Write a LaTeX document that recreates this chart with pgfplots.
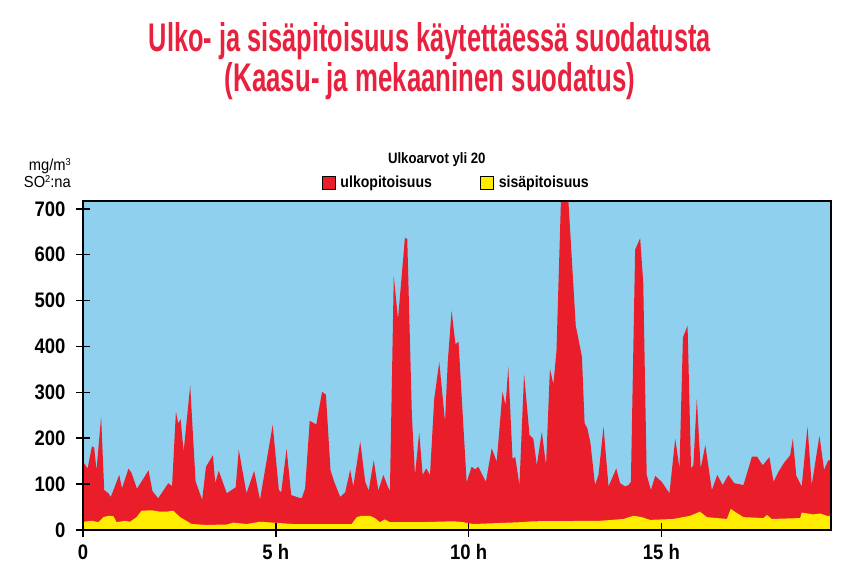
\documentclass[border=0pt]{standalone}
\usepackage{graphicx}
\usepackage{pgfplots}
\pgfplotsset{compat=1.18}
\usepackage{fontspec}
\setmainfont{Liberation Sans}
\newfontfamily\bfc{Liberation Sans}[FakeStretch=0.88]
\newfontfamily\rgc{Liberation Sans}[FakeStretch=0.92]
\definecolor{skyc}{RGB}{142,208,238}
\definecolor{redc}{RGB}{234,30,42}
\definecolor{yelc}{RGB}{255,236,0}
\definecolor{titc}{RGB}{232,34,62}
\newcommand{\sups}[1]{\raisebox{5.5pt}{\fontsize{10}{10}\selectfont #1}}
\begin{document}
\begin{tikzpicture}
\path[use as bounding box, fill=white] (0pt,0pt) rectangle (860pt,568pt);
\node[anchor=base, text=titc, inner sep=0pt] at (430pt,516pt) {\resizebox{562pt}{\height}{\fontsize{40}{44}\bfc\bfseries Ulko- ja sisäpitoisuus käytettäessä suodatusta}};
\node[anchor=base, text=titc, inner sep=0pt] at (430pt,476pt) {\resizebox{410pt}{\height}{\fontsize{40}{44}\bfc\bfseries (Kaasu- ja mekaaninen suodatus)}};
\node[anchor=base east, inner sep=0pt] at (71pt,397pt) {\fontsize{16}{19}\rgc mg/m\sups{3}};
\node[anchor=base east, inner sep=0pt] at (71pt,380pt) {\fontsize{16}{19}\rgc SO\sups{2}:na};
\begin{axis}[
  at={(83pt,38pt)}, anchor=south west, scale only axis,
  width=748pt, height=329pt,
  xmin=0, xmax=19.4, ymin=0, ymax=717,
  axis background/.style={fill=skyc},
  axis line style={line width=1.6pt},
  axis on top,
  tick style={line width=1.6pt, black},
  tick align=center, major tick length=14pt,
  xtick={0,5,10,15}, xticklabels={0,5 h,10 h,15 h},
  ytick={0,100,200,300,400,500,600,700},
  yticklabels={0,100,200,300,400,500,600,700},
  xtick pos=bottom, ytick pos=left,
  ticklabel style={font=\fontsize{21}{24}\bfc\bfseries},
  yticklabel style={xshift=-7pt},
  xticklabel style={yshift=-4pt},
  title={Ulkoarvot yli 20},
  title style={at={(axis description cs:0.473,1.106)}, anchor=center, font=\fontsize{15}{18}\bfc\bfseries},
  legend style={at={(axis description cs:0.499,1.055)}, anchor=center, draw=none, fill=none,
    font=\fontsize{16}{18}\bfc\bfseries, legend columns=2,
    /tikz/every odd column/.append style={column sep=3pt},
    /tikz/every even column/.append style={column sep=46pt}},
  legend image code/.code={\draw[#1, draw=black, line width=0.8pt] (0pt,-6.5pt) rectangle (13pt,6.5pt);},
]
\addplot[fill=redc, draw=none] coordinates {
(0,149) (0.12,134) (0.23,182) (0.29,180) (0.35,130) (0.47,247) (0.55,87) (0.66,80) (0.72,72)
(0.94,120) (1.01,91) (1.18,134) (1.26,124) (1.40,90) (1.70,130) (1.80,85) (1.95,69)
(2.21,102) (2.31,96) (2.41,258) (2.47,232) (2.53,242) (2.61,171) (2.78,315) (2.92,106)
(3.09,66) (3.19,138) (3.37,163) (3.43,102) (3.52,129) (3.73,80) (3.96,93) (4.04,175)
(4.24,80) (4.44,129) (4.59,66) (4.92,229) (5.08,87) (5.14,82) (5.28,177) (5.40,76)
(5.54,72) (5.67,69) (5.76,90) (5.88,238) (6.05,230) (6.20,301) (6.30,295) (6.42,130)
(6.52,104) (6.67,72) (6.80,82) (6.93,131) (7.01,95) (7.19,193) (7.32,105) (7.41,86)
(7.54,152) (7.66,86) (7.79,120) (7.88,100) (7.96,84) (8.06,553) (8.17,460) (8.35,637)
(8.41,634) (8.53,250) (8.61,120) (8.72,212) (8.81,120) (8.90,134) (9.00,120) (9.11,286)
(9.24,366) (9.39,236) (9.46,366) (9.56,478) (9.66,405) (9.74,410) (9.95,104) (10.08,138)
(10.17,132) (10.25,138) (10.45,105) (10.60,178) (10.73,149) (10.88,301) (10.96,272)
(11.03,355) (11.14,156) (11.21,159) (11.32,98) (11.44,340) (11.58,207) (11.68,199)
(11.77,141) (11.90,214) (12.01,141) (12.11,351) (12.20,318) (12.28,390) (12.40,730)
(12.58,730) (12.78,445) (12.94,378) (13.01,232) (13.08,222) (13.16,190) (13.28,98)
(13.37,120) (13.50,225) (13.63,95) (13.83,134) (13.93,102) (14.06,95) (14.15,98)
(14.21,105) (14.32,611) (14.45,636) (14.53,540) (14.62,120) (14.73,87) (14.84,118)
(15.01,105) (15.21,80) (15.36,199) (15.47,134) (15.56,420) (15.68,445) (15.77,134)
(15.83,141) (15.92,286) (16.02,134) (16.14,185) (16.31,87) (16.45,120) (16.59,98)
(16.74,120) (16.89,102) (17.13,98) (17.35,160) (17.48,160) (17.63,141) (17.80,159)
(17.91,105) (18.04,127) (18.17,145) (18.34,163) (18.41,199) (18.50,118) (18.64,95)
(18.79,225) (18.90,98) (19.10,205) (19.22,131) (19.33,152) (19.40,152)
} \closedcycle;
\addlegendentry{ulkopitoisuus}
\addplot[fill=yelc, draw=none] coordinates {
(0,18) (0.23,20) (0.40,17) (0.53,28) (0.66,31) (0.79,30) (0.87,17) (1.09,20) (1.22,18)
(1.39,28) (1.52,42) (1.78,43) (2.0,40) (2.17,40) (2.34,42) (2.52,28) (2.82,13) (3.21,11)
(3.73,12) (3.90,16) (4.25,13) (4.59,18) (4.94,16) (5.46,13) (6.67,13) (6.97,13) (7.10,28)
(7.23,31) (7.44,31) (7.57,26) (7.70,17) (7.83,23) (7.96,17) (8.74,17) (9.61,19) (9.87,17)
(10.12,13) (11.34,17) (11.68,19) (13.41,20) (14.02,24) (14.28,31) (14.49,28) (14.71,22)
(15.31,24) (15.75,31) (16.0,40) (16.18,28) (16.70,24) (16.80,46) (16.94,38) (17.13,28)
(17.65,26) (17.74,33) (17.86,24) (18.6,26) (18.64,38) (18.94,34) (19.12,36) (19.29,31)
(19.40,31)
} \closedcycle;
\addlegendentry{sisäpitoisuus}
\end{axis}
\end{tikzpicture}
\end{document}
